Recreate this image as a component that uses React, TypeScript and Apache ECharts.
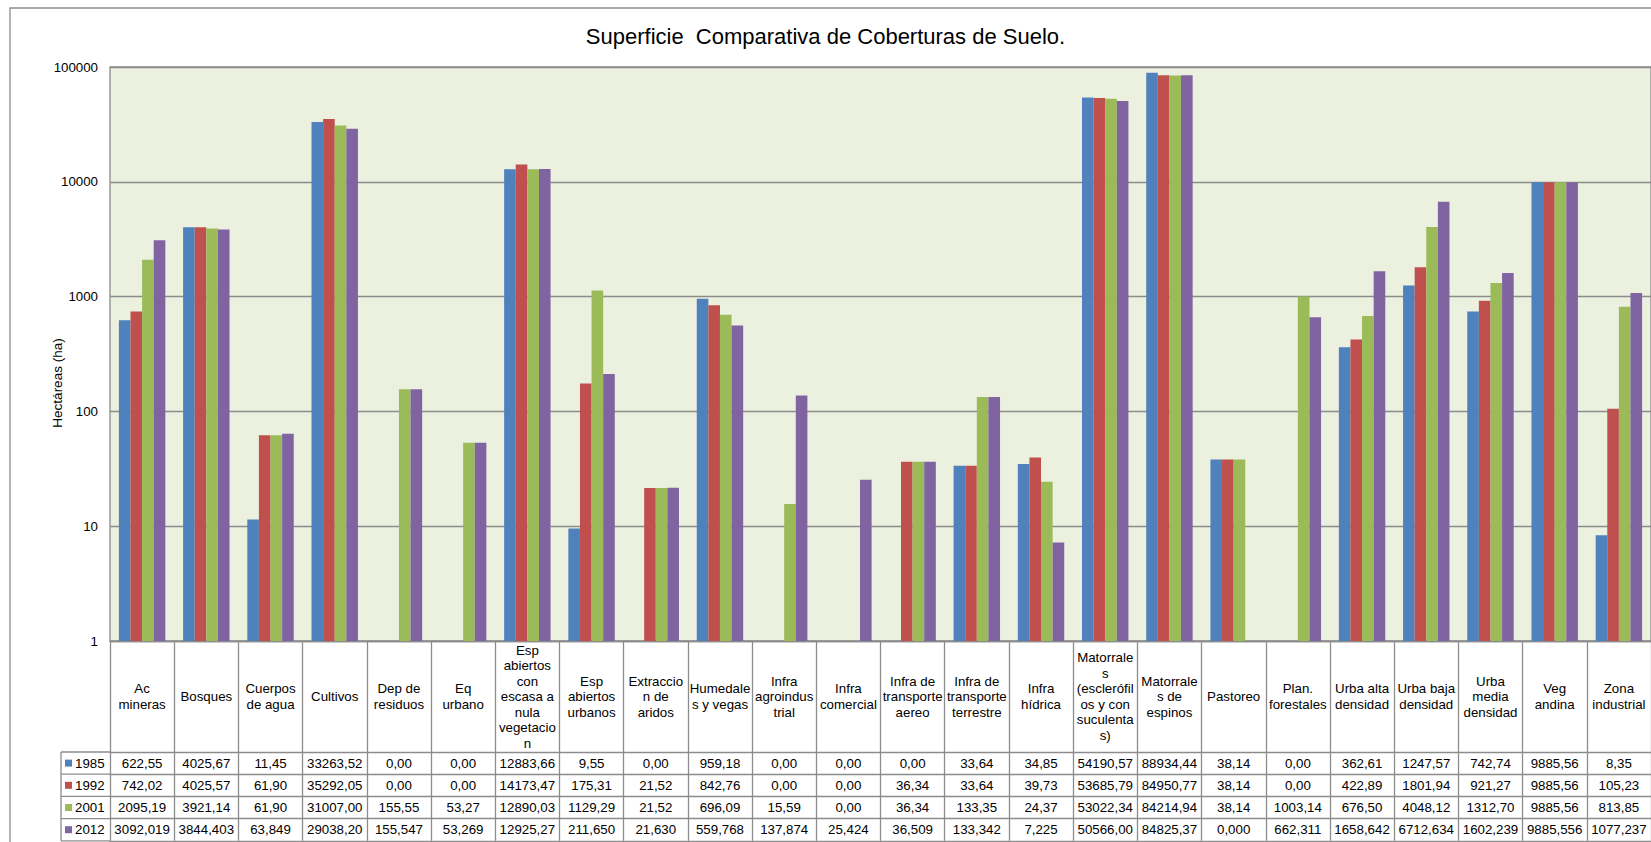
import { useEffect, useRef } from "react";
import * as echarts from "echarts";

// Land-cover classes (header cells of the data table, wrapped as printed)
const categories = [
  "Ac\nmineras",
  "Bosques",
  "Cuerpos\nde agua",
  "Cultivos",
  "Dep de\nresiduos",
  "Eq\nurbano",
  "Esp\nabiertos\ncon\nescasa a\nnula\nvegetacio\nn",
  "Esp\nabiertos\nurbanos",
  "Extraccio\nn de\naridos",
  "Humedale\ns y vegas",
  "Infra\nagroindus\ntrial",
  "Infra\ncomercial",
  "Infra de\ntransporte\naereo",
  "Infra de\ntransporte\nterrestre",
  "Infra\nhídrica",
  "Matorrale\ns\n(esclerófil\nos y con\nsuculenta\ns)",
  "Matorrale\ns de\nespinos",
  "Pastoreo",
  "Plan.\nforestales",
  "Urba alta\ndensidad",
  "Urba baja\ndensidad",
  "Urba\nmedia\ndensidad",
  "Veg\nandina",
  "Zona\nindustrial",
];

const seriesNames = ["1985", "1992", "2001", "2012"];
const seriesColors = ["#4F81BD", "#C0504D", "#9BBB59", "#8064A2"];

// Surface per class in hectares, written as in the table (decimal comma)
const ha1985 = [
  "622,55", "4025,67", "11,45", "33263,52", "0,00", "0,00", "12883,66", "9,55",
  "0,00", "959,18", "0,00", "0,00", "0,00", "33,64", "34,85", "54190,57",
  "88934,44", "38,14", "0,00", "362,61", "1247,57", "742,74", "9885,56", "8,35",
];
const ha1992 = [
  "742,02", "4025,57", "61,90", "35292,05", "0,00", "0,00", "14173,47", "175,31",
  "21,52", "842,76", "0,00", "0,00", "36,34", "33,64", "39,73", "53685,79",
  "84950,77", "38,14", "0,00", "422,89", "1801,94", "921,27", "9885,56", "105,23",
];
const ha2001 = [
  "2095,19", "3921,14", "61,90", "31007,00", "155,55", "53,27", "12890,03", "1129,29",
  "21,52", "696,09", "15,59", "0,00", "36,34", "133,35", "24,37", "53022,34",
  "84214,94", "38,14", "1003,14", "676,50", "4048,12", "1312,70", "9885,56", "813,85",
];
const ha2012 = [
  "3092,019", "3844,403", "63,849", "29038,20", "155,547", "53,269", "12925,27", "211,650",
  "21,630", "559,768", "137,874", "25,424", "36,509", "133,342", "7,225", "50566,00",
  "84825,37", "0,000", "662,311", "1658,642", "6712,634", "1602,239", "9885,556", "1077,237",
];
const tableRows = [ha1985, ha1992, ha2001, ha2012];

const yMin = 1;
const yMax = 100000;

// Zero surfaces cannot sit on a log axis: leave those bars out
const toValue = (s: string) => {
  const v = parseFloat(s.replace(",", "."));
  return v > 0 ? v : null;
};

const FONT = "'Liberation Sans', Arial, sans-serif";
const LINE = "#8C8C8C";

// Layout
const GRID_LEFT = 110;
const GRID_TOP = 67;
const GRID_BOTTOM = 201;
const HEADER_H = 111;
const ROW_H = 22.2;
const LEGEND_LEFT = 61;

export default function App() {
  const ref = useRef<HTMLDivElement>(null);

  useEffect(() => {
    if (!ref.current) return;
    const chart = echarts.init(ref.current, null, { renderer: "svg" });
    const H = ref.current.clientHeight;
    const tableTop = H - GRID_BOTTOM;
    const rowsTop = tableTop + HEADER_H;

    const textBase = { fontFamily: FONT, fontSize: 13.3, color: "#000" };

    const rowAxes = tableRows.map((row, i) => ({
      type: "category",
      gridIndex: 0,
      position: "bottom",
      offset: HEADER_H + i * ROW_H,
      data: categories,
      axisLine: { show: true, lineStyle: { color: LINE, width: 1.3 } },
      axisTick: { show: true, interval: 0, length: ROW_H, lineStyle: { color: LINE, width: 1.3 } },
      axisLabel: {
        ...textBase,
        interval: 0,
        margin: ROW_H / 2,
        verticalAlign: "middle",
        formatter: (_v: string, idx: number) => row[idx],
      },
      splitLine: { show: false },
    }));

    const legendCells: any[] = [];
    // left border of the key column and its row separators
    legendCells.push({
      type: "line",
      shape: { x1: LEGEND_LEFT, y1: rowsTop, x2: LEGEND_LEFT, y2: rowsTop + 4 * ROW_H },
      style: { stroke: LINE, lineWidth: 1.3 },
    });
    for (let i = 0; i <= 4; i++) {
      legendCells.push({
        type: "line",
        shape: { x1: LEGEND_LEFT, y1: rowsTop + i * ROW_H, x2: GRID_LEFT, y2: rowsTop + i * ROW_H },
        style: { stroke: LINE, lineWidth: 1.3 },
      });
    }
    seriesNames.forEach((name, i) => {
      const cy = rowsTop + i * ROW_H + ROW_H / 2;
      legendCells.push({
        type: "rect",
        shape: { x: 65, y: cy - 3.5, width: 7, height: 7 },
        style: { fill: seriesColors[i] },
      });
      legendCells.push({
        type: "text",
        x: 75,
        y: cy,
        style: {
          text: name,
          font: `13.3px ${FONT}`,
          fill: "#000",
          textAlign: "left",
          textVerticalAlign: "middle",
        },
      });
    });

    chart.setOption({
      animation: false,
      backgroundColor: "#fff",
      title: {
        text: "Superficie  Comparativa de Coberturas de Suelo.",
        left: "center",
        top: 25,
        padding: 0,
        textStyle: { fontFamily: FONT, fontSize: 22, fontWeight: "normal", color: "#000" },
      },
      grid: {
        left: GRID_LEFT,
        right: 0,
        top: GRID_TOP,
        bottom: GRID_BOTTOM,
        show: true,
        backgroundColor: "#EBF0DF",
        borderColor: LINE,
        borderWidth: 1.3,
        containLabel: false,
      },
      xAxis: [
        {
          type: "category",
          gridIndex: 0,
          position: "bottom",
          data: categories,
          axisLine: { show: true, lineStyle: { color: LINE, width: 1.3 } },
          axisTick: { show: true, interval: 0, length: HEADER_H, lineStyle: { color: LINE, width: 1.3 } },
          axisLabel: {
            ...textBase,
            interval: 0,
            margin: HEADER_H / 2,
            verticalAlign: "middle",
            lineHeight: 15.5,
          },
          splitLine: { show: false },
        },
        ...rowAxes,
        {
          type: "category",
          gridIndex: 0,
          position: "bottom",
          offset: HEADER_H + 4 * ROW_H,
          data: categories,
          axisLine: { show: true, lineStyle: { color: LINE, width: 1.3 } },
          axisTick: { show: false },
          axisLabel: { show: false },
          splitLine: { show: false },
        },
      ],
      yAxis: {
        type: "log",
        logBase: 10,
        min: yMin,
        max: yMax,
        axisLine: { show: false },
        axisTick: { show: false },
        axisLabel: { ...textBase, margin: 12, formatter: (v: number) => String(Math.round(v)) },
        splitLine: { show: true, lineStyle: { color: LINE, width: 1.3 } },
      },
      series: tableRows.map((row, i) => ({
        name: seriesNames[i],
        type: "bar",
        xAxisIndex: 0,
        yAxisIndex: 0,
        barGap: "0%",
        barCategoryGap: "27.7%",
        itemStyle: { color: seriesColors[i] },
        data: row.map(toValue),
      })),
      graphic: [
        {
          type: "rect",
          silent: true,
          shape: { x: 10, y: 8, width: 1700, height: 900 },
          style: { fill: "none", stroke: LINE, lineWidth: 1.3 },
          z: -10,
        },
        {
          type: "text",
          x: 57,
          y: 383,
          rotation: Math.PI / 2,
          style: {
            text: "Hectáreas (ha)",
            font: `13.5px ${FONT}`,
            fill: "#000",
            textAlign: "center",
            textVerticalAlign: "middle",
          },
        },
        ...legendCells,
      ],
    });

    return () => chart.dispose();
  }, []);

  return (
    <div
      ref={ref}
      style={{ position: "fixed", left: 0, top: 0, width: 1651, height: 842, background: "#fff" }}
    />
  );
}
